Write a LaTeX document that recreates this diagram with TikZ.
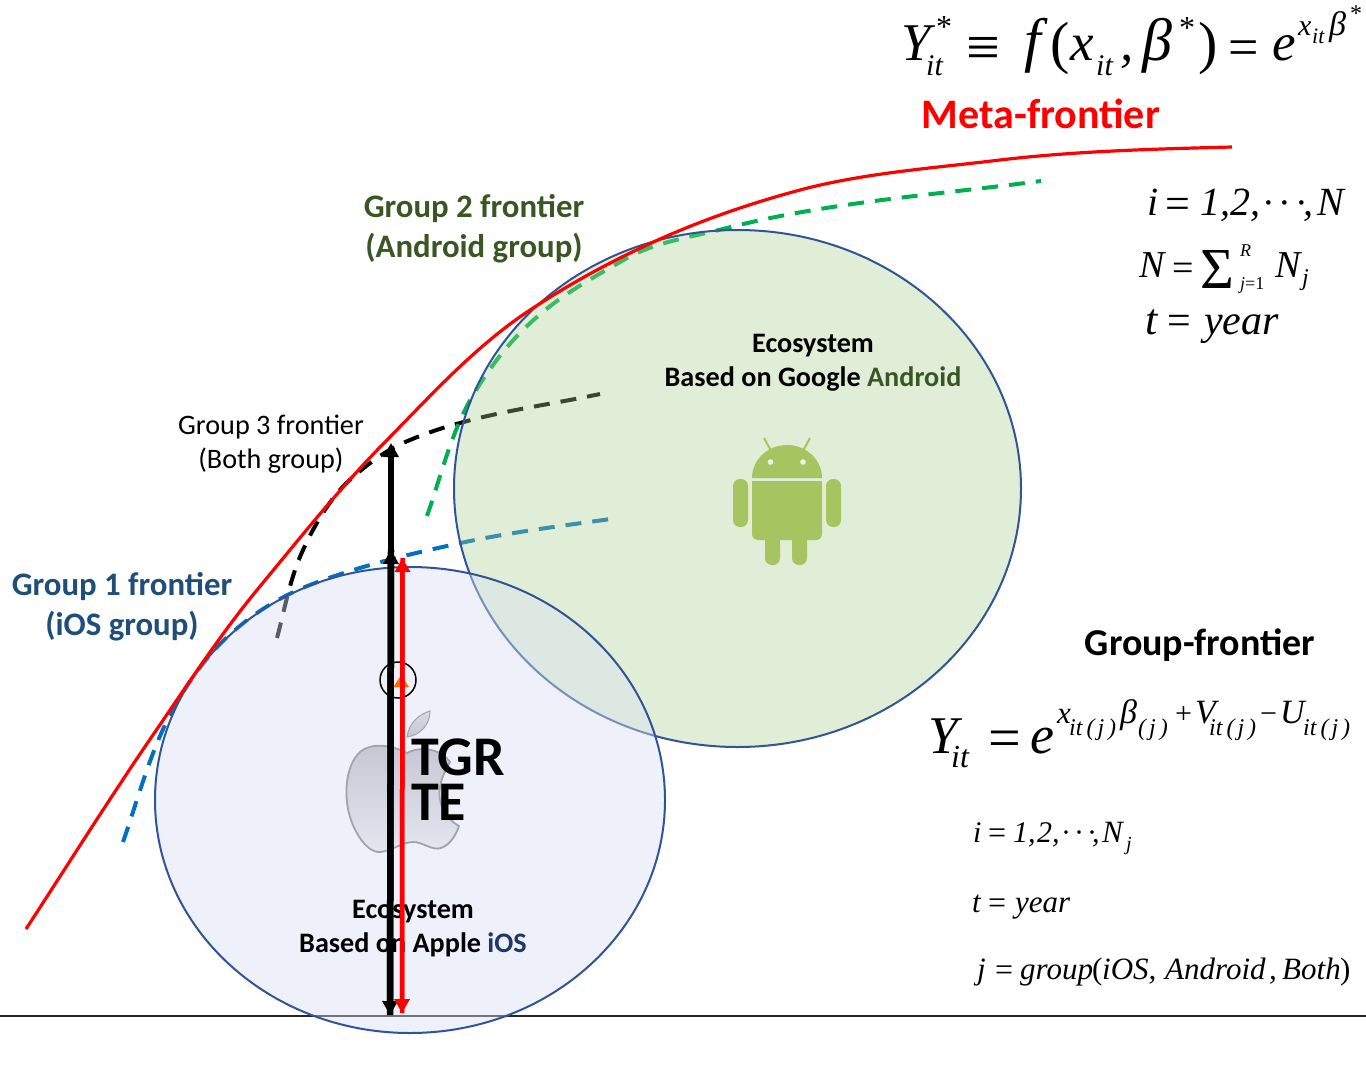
\documentclass[tikz,border=0pt]{standalone}
\usepackage{fontspec}
\setmainfont{Carlito}
\newfontfamily\tmf{Liberation Serif}
\usetikzlibrary{arrows.meta}
\definecolor{ringblue}{HTML}{2F5597}
\definecolor{iosfill}{HTML}{D9E0F5}
\definecolor{andfill}{HTML}{A9D18E}
\definecolor{gtwo}{HTML}{385723}
\definecolor{gone}{HTML}{1F4E79}
\definecolor{iosword}{HTML}{1F3864}
\definecolor{robot}{HTML}{A4C55F}
\definecolor{dblue}{HTML}{0070C0}
\definecolor{dgreen}{HTML}{00B050}
\definecolor{appletop}{HTML}{C4C7D2}
\definecolor{applemid}{HTML}{D9DCE6}
\definecolor{applebot}{HTML}{E4E7F0}
\definecolor{appleedge}{HTML}{A0A4B2}
\tikzset{
  ring/.style={draw=ringblue,line width=2pt},
  front/.style={dash pattern=on 16pt off 11pt,line width=4pt},
  lab/.style={inner sep=0pt,align=center,font=\fontsize{#1}{#1}\selectfont\bfseries},
  plainlab/.style={inner sep=0pt,align=center,font=\fontsize{#1}{#1}\selectfont},
  mathit/.style={inner sep=0pt,anchor=base west,font=\fontsize{#1}{#1}\selectfont\tmf\itshape},
  mathup/.style={inner sep=0pt,anchor=base west,font=\fontsize{#1}{#1}\selectfont\tmf},
  bigarrow/.style={line width=#1,-{Triangle[width=15pt,length=14pt]}},
}
\newcommand{\mti}[5]{\node[mathit=#4] (#1) at (#2,#3) {#5};}
\newcommand{\mtu}[5]{\node[mathup=#4] (#1) at (#2,#3) {#5};}
\newcommand{\itj}{it\kern4pt(\kern3pt j\kern4pt)}
\begin{document}
\begin{tikzpicture}[x=1pt,y=-1pt]
\useasboundingbox[fill=white] (0,0) rectangle (1366,1074);
% axis
\draw[line width=1.2pt,black!85] (0,1016) -- (1366,1016);
% frontiers
\draw[front,dblue] (123,842) .. controls (140,793) and (153,741) .. (180,697)
  .. controls (195,673) and (212,650) .. (233,632)
  .. controls (255,612) and (282,596) .. (310,585)
  .. controls (354,568) and (401,556) .. (447,546)
  .. controls (503,533) and (561,526) .. (618,518);
\draw[front,black] (277,638) .. controls (285,608) and (290,578) .. (303,550)
  .. controls (315,524) and (331,496) .. (353,477)
  .. controls (368,464) and (385,451) .. (403,443)
  .. controls (421,435) and (441,428) .. (460,423)
  .. controls (506,410) and (553,404) .. (600,394);
\draw[front,dgreen] (427,516) .. controls (441,476) and (451,433) .. (472,397)
  .. controls (489,368) and (511,339) .. (537,317)
  .. controls (564,293) and (596,276) .. (627,258)
  .. controls (656,242) and (691,237) .. (723,229)
  .. controls (827,202) and (935,195) .. (1041,181);
% ecosystems
\fill[andfill,fill opacity=.35] (737.5,488.5) ellipse [x radius=283.5,y radius=258.5];
\draw[ring] (737.5,488.5) ellipse [x radius=283.5,y radius=258.5];
\fill[iosfill,fill opacity=.42] (410,800) ellipse [x radius=255,y radius=233];
\draw[ring] (410,800) ellipse [x radius=255,y radius=233];
% meta-frontier
\draw[red,line width=3.2pt] (26,929) .. controls (69,863) and (111,796) .. (155,732)
  .. controls (188,684) and (220,635) .. (257,590)
  .. controls (300,538) and (342,485) .. (390,437)
  .. controls (434,392) and (477,345) .. (530,310)
  .. controls (568,285) and (606,264) .. (647,245)
  .. controls (696,222) and (748,204) .. (800,190)
  .. controls (864,173) and (934,168) .. (1000,160)
  .. controls (1076,151) and (1155,149) .. (1232,147);
% android robot
\fill[robot] (752,478) arc[start angle=180,end angle=360,x radius=35,y radius=33] -- cycle;
\draw[robot,line width=2pt] (764,438) -- (771,451) (810,438) -- (803,451);
\fill[white!80!robot] (770.5,462) circle (2.8) (803,462) circle (2.8);
\fill[robot,rounded corners=6pt] (752,481) -- (822,481) -- (822,540) -- (752,540) -- cycle;
\fill[robot] (752,481) rectangle (822,500);
\fill[robot,rounded corners=7pt] (733,479) rectangle (748,527) (826,479) rectangle (841,527) (765,530) rectangle (780,565) (792,530) rectangle (807,565);
% apple logo
\shade[top color=appletop,middle color=applemid,bottom color=applebot,draw=appleedge,line width=1.8pt]
 (407,753) .. controls (392,745) and (372,742) .. (360,752) .. controls (348,763) and (345,785) .. (347,802)
 .. controls (349,825) and (365,853) .. (380,852) .. controls (392,851) and (402,842) .. (413,842)
 .. controls (423,842) and (432,851) .. (441,848) .. controls (450,845) and (456,835) .. (459,826)
 .. controls (445,818) and (437,802) .. (440,787) .. controls (442,775) and (447,768) .. (450,762)
 .. controls (442,750) and (422,745) .. (407,753) -- cycle;
\shade[top color=applemid,bottom color=appletop,draw=appleedge,line width=1pt] (407,737) .. controls (409,722) and (420,714) .. (430,711) .. controls (430,724) and (421,735) .. (407,737) -- cycle;
% labels
\node[lab=32.8,gtwo] (g2) at (474,209) {Group 2 frontier};
\node[lab=32.8,gtwo] (g2b) at (474,248) {(Android group)};
\node[lab=32.8,gone] (g1) at (122,587) {Group 1 frontier};
\node[lab=32.8,gone] (g1b) at (122,626) {(iOS group)};
\node[plainlab=28.2] (g3) at (271,427) {Group 3 frontier};
\node[plainlab=28.2] (g3b) at (271,461) {(Both group)};
\node[lab=28.2] (ea) at (813,346) {Ecosystem};
\node[lab=28.2] (eb) at (813,379) {Based on Google \textcolor{gtwo}{Android}};
\node[lab=28.2] (ia) at (413,912) {Ecosystem};
\node[lab=28.2] (ib) at (413,945) {Based on Apple \textcolor{iosword}{iOS}};
\node[lab=42,red] (meta) at (1041,114) {Meta-frontier};
\node[lab=38] (grp) at (1200,645) {Group-frontier};
\node[lab=56,anchor=base west] (tgr) at (411,775) {TGR};
\node[lab=56,anchor=base west] (te) at (411,820) {TE};
% marker
\node[draw=black,circle,line width=1.5pt,minimum size=36pt,inner sep=0pt] (mark) at (398,680) {};
\fill[orange!85!red] (393.5,687) -- (401,675) -- (409,687) -- cycle;
% arrows
\coordinate (bb) at (390,1015);
\coordinate (bm) at (391,550);
\coordinate (bt) at (391,443);
\coordinate (rb) at (402,1013);
\coordinate (rt) at (402.5,558);
\draw[bigarrow=6.5pt,black] (bm) -- (bb);
\draw[bigarrow=6.5pt,black] (bb) -- (bm);
\draw[bigarrow=6.5pt,black] (bm) -- (bt);
\draw[bigarrow=4.5pt,red] (rb) -- (rt);
\draw[bigarrow=4.5pt,red] (rt) -- (rb);
% meta formula
\mti{a1}{901}{60}{53}{Y}
\mtu{a2}{936}{37}{32}{*}
\mti{a3}{926}{75}{30}{it}
\mtu{a4}{966}{67}{60}{≡}
\mti{a5}{1024}{60}{60}{f}
\mtu{a6}{1050}{62}{58}{(}
\mti{a7}{1070}{60}{53}{x}
\mti{a8}{1096}{75}{30}{it}
\mti{a9}{1120}{60}{53}{,}
\mti{a10}{1142}{60}{60}{β}
\mtu{a11}{1179}{38}{32}{*}
\mtu{a12}{1198}{62}{58}{)}
\mtu{a13}{1228}{65}{54}{=}
\mti{a14}{1272}{60}{53}{e}
\mti{a15}{1298}{35}{30}{x}
\mti{a16}{1312}{43}{22}{it}
\mti{a17}{1329}{35}{34}{β}
\mtu{a18}{1350}{21}{24}{*}
% indices
\mti{b1}{1147}{215}{40}{i}
\mtu{b2}{1165}{218}{44}{=}
\mti{b3}{1200}{215}{40}{1,}
\mti{b4}{1230}{215}{40}{2,}
\mtu{b5}{1262}{215}{38}{·\kern4pt·\kern4pt·}
\mti{b6}{1303}{215}{40}{,}
\mti{b7}{1317}{215}{40}{N}
\mti{c1}{1139}{277}{38}{N}
\mtu{c2}{1172}{280}{38}{=}
\mtu{c3}{1200}{288}{58}{Σ}
\mti{c4}{1240}{256}{18}{R}
\node[mathit=18] (c5) at (1240,289) {j{\tmf\upshape =1}};
\mti{c6}{1275}{277}{38}{N}
\mti{c7}{1302}{285}{24}{j}
\mti{d1}{1145}{334}{44}{t}
\mtu{d2}{1167}{334}{42}{=}
\mti{d3}{1204}{334}{42}{year}
% group formula
\mti{e1}{928}{753}{53}{Y}
\mti{e2}{951}{767}{32}{it}
\mtu{e3}{988}{757}{58}{=}
\mti{e4}{1030}{753}{54}{e}
\mti{e5}{1057}{723}{31}{x}
\mti{e6}{1069}{735}{24}{\itj}
\mti{e7}{1120}{723}{34}{β}
\mti{e8}{1138}{735}{24}{(\kern3pt j\kern4pt)}
\mtu{e9}{1175}{723}{30}{+}
\mti{e10}{1195}{723}{34}{V}
\mti{e11}{1209}{735}{24}{\itj}
\mtu{e12}{1260}{723}{30}{−}
\mti{e13}{1280}{723}{34}{U}
\mti{e14}{1303}{735}{24}{\itj}
\mti{f1}{973}{842}{30}{i}
\mtu{f2}{988}{843}{32}{=}
\mti{f3}{1013}{842}{30}{1,}
\mti{f4}{1037}{842}{30}{2,}
\mtu{f5}{1061}{842}{30}{·\kern3pt·\kern3pt·}
\mti{f6}{1092}{842}{30}{,}
\mti{f7}{1102}{842}{31}{N}
\mti{f8}{1126}{850}{20}{j}
\mti{h1}{972}{912}{31}{t}
\mtu{h2}{988}{913}{32}{=}
\mti{h3}{1015}{912}{31}{year}
\mti{k1}{977}{979}{31}{j}
\mtu{k2}{995}{980}{32}{=}
\mti{k3}{1020}{979}{31}{group}
\mtu{k4}{1092}{979}{31}{(}
\mti{k5}{1102}{979}{31}{iOS,}
\mti{k6}{1165}{979}{31}{Android}
\mti{k7}{1269}{979}{31}{,}
\mti{k8}{1282}{979}{31}{Both}
\mtu{k9}{1340}{979}{31}{)}
\end{tikzpicture}
\end{document}
